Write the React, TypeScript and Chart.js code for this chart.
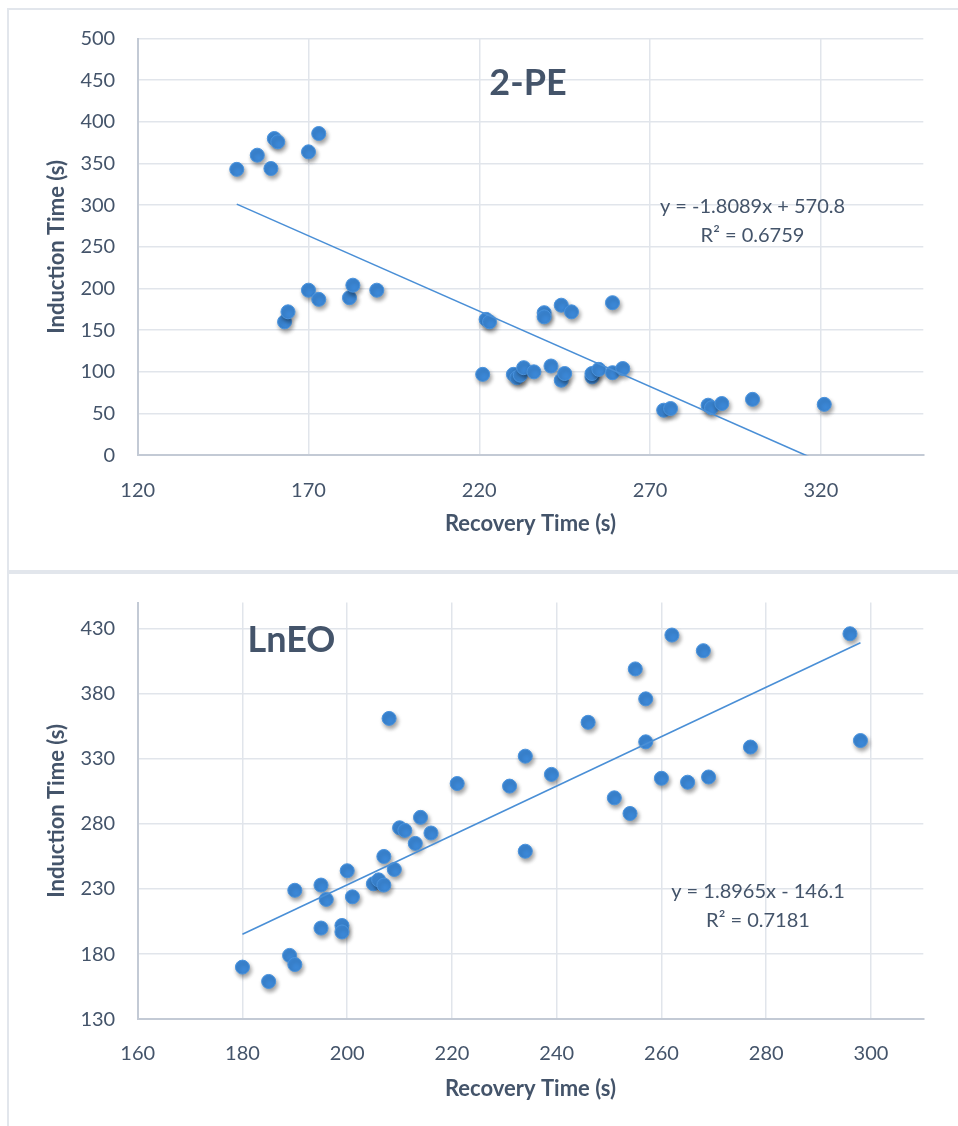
import React, { useEffect, useRef } from "react";
import { Chart, registerables } from "chart.js";

Chart.register(...registerables);

// ---------- Data: 2-PE ----------
const peRecovery = [149, 155, 159, 160, 161, 170, 173, 163, 164, 170, 173, 182, 183, 190, 222, 223, 221, 230, 231, 232, 233, 236, 239, 239, 244, 247, 259, 241, 244, 245, 253, 253, 255, 259, 262, 274, 276, 287, 288, 291, 300, 321];
const peInduction = [343, 360, 344, 380, 376, 364, 386, 160, 172, 198, 187, 189, 204, 198, 163, 160, 97, 97, 93, 96, 105, 100, 171, 166, 180, 172, 183, 107, 90, 98, 94, 98, 103, 99, 104, 54, 56, 60, 57, 62, 67, 61];
const peXTicks = [120, 170, 220, 270, 320];
const peYTicks = [0, 50, 100, 150, 200, 250, 300, 350, 400, 450, 500];
const peSlope = -1.8089;
const peIntercept = 570.8;
const peEquation = ["y = -1.8089x + 570.8", "R² = 0.6759"];

// ---------- Data: LnEO ----------
const lnRecovery = [180, 185, 189, 190, 190, 195, 195, 196, 199, 199, 200, 201, 205, 206, 207, 207, 209, 210, 211, 213, 214, 216, 208, 221, 231, 234, 234, 239, 246, 251, 254, 255, 257, 257, 260, 262, 265, 268, 269, 277, 296, 298];
const lnInduction = [170, 159, 179, 172, 229, 200, 233, 222, 202, 197, 244, 224, 234, 237, 233, 255, 245, 277, 275, 265, 285, 273, 361, 311, 309, 332, 259, 318, 358, 300, 288, 399, 376, 343, 315, 425, 312, 413, 316, 339, 426, 344];
const lnXTicks = [160, 180, 200, 220, 240, 260, 280, 300];
const lnYTicks = [130, 180, 230, 280, 330, 380, 430];
const lnSlope = 1.8965;
const lnIntercept = -146.1;
const lnEquation = ["y = 1.8965x - 146.1", "R² = 0.7181"];

const FONT = "Lato, 'Open Sans', sans-serif";
const TEXT = "#44546A";
const GRID = "#E1E5EB";
const AXIS = "#C3CAD5";
const DOT = "#3B87D6";
const DOT_EDGE = "#4A93DD";
const LINE = "#4A8FD6";
const AXIS_TITLE_SIZE = 22;

type Panel = {
  xs: number[];
  ys: number[];
  xMin: number;
  xMax: number;
  yMin: number;
  yMax: number;
  xTicks: number[];
  yTicks: number[];
  slope: number;
  intercept: number;
  title: string;
  titlePos: [number, number];
  equation: string[];
  eqPos: [number, number];
  height: number;
  xTitlePad: number;
  xTickPad: number;
};

const shadowPlugin = {
  id: "dotShadow",
  beforeDatasetDraw(chart: any, args: any) {
    if (args.index === 1) {
      const ctx = chart.ctx;
      ctx.save();
      ctx.shadowColor = "rgba(0,0,0,0.38)";
      ctx.shadowBlur = 4;
      ctx.shadowOffsetX = 1.5;
      ctx.shadowOffsetY = 3;
    }
  },
  afterDatasetDraw(chart: any, args: any) {
    if (args.index === 1) chart.ctx.restore();
  },
};

function makeTextPlugin(p: Panel) {
  return {
    id: "panelText",
    afterDraw(chart: any) {
      const ctx = chart.ctx;
      ctx.save();
      ctx.fillStyle = TEXT;
      ctx.textAlign = "center";
      ctx.textBaseline = "middle";
      ctx.font = `bold 36px ${FONT}`;
      ctx.fillText(p.title, p.titlePos[0], p.titlePos[1]);
      ctx.font = `20px ${FONT}`;
      p.equation.forEach((line, i) => {
        ctx.fillText(line, p.eqPos[0], p.eqPos[1] + i * 29);
      });
      ctx.restore();
    },
  };
}

function buildChart(canvas: HTMLCanvasElement, p: Panel) {
  const points = p.xs.map((x, i) => ({ x, y: p.ys[i] }));
  const lo = Math.min(...p.xs);
  const hi = Math.max(...p.xs);
  const trend = [
    { x: lo, y: p.slope * lo + p.intercept },
    { x: hi, y: p.slope * hi + p.intercept },
  ];
  return new Chart(canvas, {
    type: "scatter",
    data: {
      datasets: [
        {
          data: trend,
          showLine: true,
          borderColor: LINE,
          borderWidth: 1.6,
          pointRadius: 0,
          pointHoverRadius: 0,
          clip: 0,
        } as any,
        {
          data: points,
          backgroundColor: DOT,
          borderColor: DOT_EDGE,
          borderWidth: 1,
          pointRadius: 7,
          pointHoverRadius: 7,
          clip: false,
        } as any,
      ],
    },
    options: {
      responsive: false,
      animation: false,
      events: [],
      layout: { padding: { left: 0, top: 28.5, right: 34.7, bottom: 0 } },
      plugins: {
        legend: { display: false },
        tooltip: { enabled: false },
        title: { display: false },
      },
      scales: {
        x: {
          type: "linear",
          min: p.xMin,
          max: p.xMax,
          afterBuildTicks: (s: any) => {
            s.ticks = p.xTicks.map((v) => ({ value: v }));
          },
          afterFit: (s: any) => {
            s.height = p.height - 445.2;
            s.paddingLeft = 0;
            s.paddingRight = 0;
          },
          grid: { color: GRID, lineWidth: 1.5, drawTicks: false },
          border: { color: AXIS, width: 2 },
          ticks: { padding: p.xTickPad, color: TEXT, font: { family: FONT, size: 20 }, maxRotation: 0 },
          title: {
            display: true,
            text: "Recovery Time (s)",
            color: TEXT,
            font: { family: FONT, size: AXIS_TITLE_SIZE, weight: "bold" },
            padding: { top: 0, bottom: p.xTitlePad },
          },
        },
        y: {
          type: "linear",
          min: p.yMin,
          max: p.yMax,
          afterBuildTicks: (s: any) => {
            s.ticks = p.yTicks.map((v) => ({ value: v }));
          },
          afterFit: (s: any) => {
            s.width = 128.7;
            s.paddingTop = 0;
            s.paddingBottom = 0;
          },
          grid: { color: GRID, lineWidth: 1.5, drawTicks: false },
          border: { color: AXIS, width: 2 },
          ticks: { padding: 22.5, color: TEXT, font: { family: FONT, size: 20 } },
          title: {
            display: true,
            text: "Induction Time (s)",
            color: TEXT,
            font: { family: FONT, size: AXIS_TITLE_SIZE, weight: "bold" },
            padding: { top: 35, bottom: 0 },
          },
        },
      },
    } as any,
    plugins: [shadowPlugin, makeTextPlugin(p)],
  });
}

const topPanel: Panel = {
  xs: peRecovery,
  ys: peInduction,
  xMin: 120,
  xMax: 350,
  yMin: 0,
  yMax: 500,
  xTicks: peXTicks,
  yTicks: peYTicks,
  slope: peSlope,
  intercept: peIntercept,
  title: "2-PE",
  titlePos: [519, 73],
  equation: peEquation,
  eqPos: [743.5, 197],
  height: 558,
  xTitlePad: 30.5,
  xTickPad: 23,
};

const bottomPanel: Panel = {
  xs: lnRecovery,
  ys: lnInduction,
  xMin: 160,
  xMax: 310,
  yMin: 130,
  yMax: 450,
  xTicks: lnXTicks,
  yTicks: lnYTicks,
  slope: lnSlope,
  intercept: lnIntercept,
  title: "LnEO",
  titlePos: [282.5, 66.5],
  equation: lnEquation,
  eqPos: [749, 317.5],
  height: 552,
  xTitlePad: 23.5,
  xTickPad: 22.7,
};

function ChartCanvas({ panel, top }: { panel: Panel; top: number }) {
  const ref = useRef<HTMLCanvasElement | null>(null);
  useEffect(() => {
    if (!ref.current) return;
    const chart = buildChart(ref.current, panel);
    return () => chart.destroy();
  }, [panel]);
  return (
    <canvas
      ref={ref}
      width={949}
      height={panel.height}
      style={{ position: "absolute", left: 9, top, width: 949, height: panel.height, display: "block" }}
    />
  );
}

export default function App() {
  const frame = "#E2E6EC";
  return (
    <div
      style={{
        position: "absolute",
        left: 0,
        top: 0,
        width: 958,
        height: 1126,
        overflow: "hidden",
        background: "#FFFFFF",
      }}
    >
      <div style={{ position: "absolute", left: 7, top: 8, width: 2, height: 1118, background: frame }} />
      <div style={{ position: "absolute", left: 7, top: 8, width: 951, height: 2, background: frame }} />
      <div style={{ position: "absolute", left: 7, top: 570, width: 951, height: 4, background: frame }} />
      <ChartCanvas panel={topPanel} top={10} />
      <ChartCanvas panel={bottomPanel} top={574} />
    </div>
  );
}
